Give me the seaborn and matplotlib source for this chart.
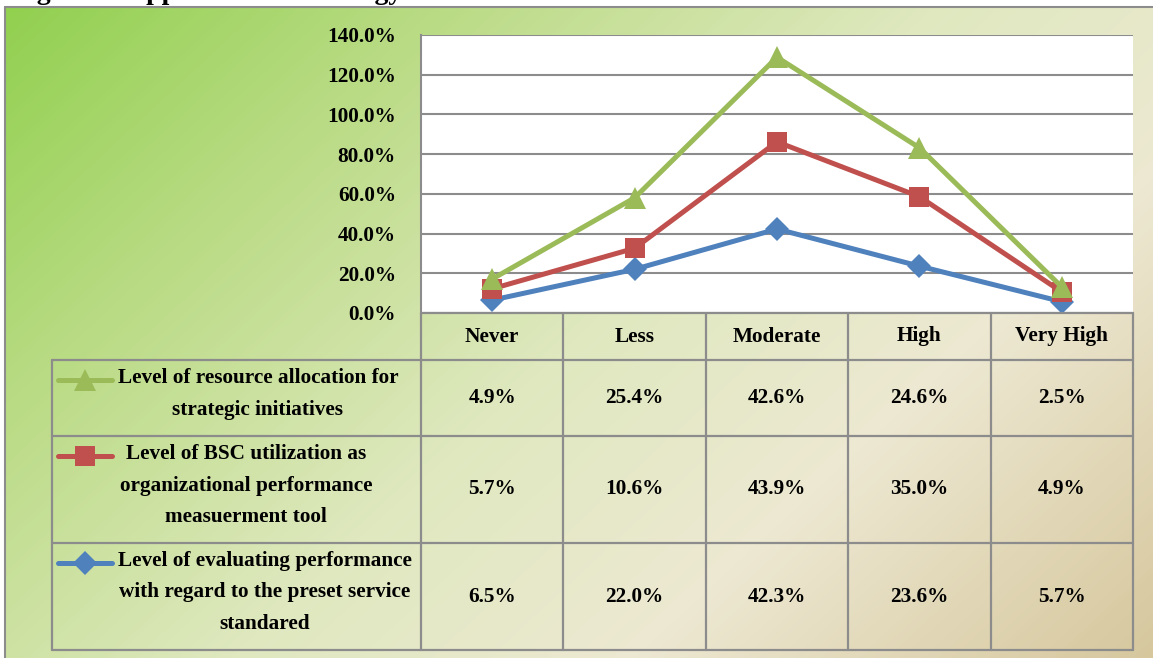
import numpy as np
import pandas as pd
import matplotlib
matplotlib.use("Agg")
import matplotlib.pyplot as plt
from matplotlib.colors import LinearSegmentedColormap
from matplotlib.ticker import FuncFormatter, MultipleLocator
import seaborn as sns

# ---------------- data ----------------
categories = ["Never", "Less", "Moderate", "High", "Very High"]
resource_alloc = [4.9, 25.4, 42.6, 24.6, 2.5]
bsc_util = [5.7, 10.6, 43.9, 35.0, 4.9]
eval_perf = [6.5, 22.0, 42.3, 23.6, 5.7]
series_labels = [
    ["Level of resource allocation for", "strategic initiatives"],
    ["Level of BSC utilization as", "organizational performance", "measuerment tool"],
    ["Level of evaluating performance", "with regard to the preset service", "standared"],
]
title_text = "Figure 4: Application of Strategy"

sns.set_theme(style="white")
plt.rcParams["font.family"] = ["Liberation Serif", "DejaVu Serif"]
plt.rcParams["font.weight"] = "bold"
plt.rcParams["text.color"] = "black"
plt.rcParams["ytick.color"] = "black"

W, H = 1153, 658
fig = plt.figure(figsize=(W / 100, H / 100), dpi=100)
fig.patch.set_facecolor("white")

# background gradient (chart area)
bg = fig.add_axes([0, 0, 1, 1], zorder=0)
bg.set_xlim(0, W)
bg.set_ylim(H, 0)
bg.axis("off")
cmap = LinearSegmentedColormap.from_list(
    "g", [(0.0, "#92d050"), (0.25, "#bcdc88"), (0.5, "#dfe8bf"),
          (0.72, "#ede8d2"), (1.0, "#d6c79d")])
yy, xx = np.mgrid[0:200, 0:350]
grad = (xx / 349.0 * 0.62 + yy / 199.0 * 0.38)
bg.imshow(grad, cmap=cmap, extent=[6, W + 2, H + 2, 8], aspect="auto",
          interpolation="bicubic", zorder=0)
bg.plot([5, 5], [7, H + 2], color="#8c8c8c", lw=1.5, zorder=1)
bg.plot([5, W + 2], [7, 7], color="#8c8c8c", lw=1.5, zorder=1)

# plot area
px0, px1, py0, py1 = 421, 1133, 35, 313
ax = fig.add_axes([px0 / W, 1 - py1 / H, (px1 - px0) / W, (py1 - py0) / H], zorder=2)
ax.set_facecolor("white")

stack1 = np.array(eval_perf)
stack2 = stack1 + np.array(bsc_util)
stack3 = stack2 + np.array(resource_alloc)
xs = np.arange(len(categories))

colors = ["#9bbb59", "#c0504d", "#4f81bd"]
markers = ["^", "s", "D"]
msizes = [16, 14.5, 12.5]

sns.lineplot(x=xs, y=stack1, ax=ax, color=colors[2], marker=markers[2],
             markersize=msizes[2], markeredgewidth=0, linewidth=3.6, zorder=3)
sns.lineplot(x=xs, y=stack2, ax=ax, color=colors[1], marker=markers[1],
             markersize=msizes[1], markeredgewidth=0, linewidth=3.6, zorder=4)
sns.lineplot(x=xs, y=stack3, ax=ax, color=colors[0], marker=markers[0],
             markersize=msizes[0], markeredgewidth=0, linewidth=3.6, zorder=5)

fs = 15.3
ax.set_xlim(-0.5, len(categories) - 0.5)
ax.set_ylim(0, 140)
ax.yaxis.set_major_locator(MultipleLocator(20))
ax.yaxis.set_major_formatter(FuncFormatter(lambda v, p: f"{v:.1f}%"))
ax.set_xticks([])
ax.grid(axis="y", color="#8c8c8c", lw=1.5)
ax.set_axisbelow(True)
for s in ["right", "bottom", "top"]:
    ax.spines[s].set_visible(False)
ax.spines["left"].set_color("#8c8c8c")
ax.spines["left"].set_linewidth(1.5)
ax.tick_params(axis="y", length=0, pad=18, labelsize=fs, labelcolor="black")
for t in ax.get_yticklabels():
    t.set_fontweight("bold")
ax.set_xlabel("")
ax.set_ylabel("")
for l in ax.lines:
    l.set_clip_on(False)

# overlay for table
ov = fig.add_axes([0, 0, 1, 1], zorder=3)
ov.set_xlim(0, W)
ov.set_ylim(H, 0)
ov.axis("off")
ov.patch.set_alpha(0)

gc = "#8c8c8c"
glw = 1.6
col_edges = np.linspace(px0, px1, len(categories) + 1)
row_edges = [py1, 360, 436, 543, 650]
legend_left = 52

ov.text(12, -1, title_text, fontsize=20, fontweight="bold", va="baseline",
        ha="left", color="black", clip_on=False)

# horizontal lines
ov.plot([px0, px1], [row_edges[0], row_edges[0]], color=gc, lw=glw)
for r in row_edges[1:]:
    ov.plot([legend_left, px1], [r, r], color=gc, lw=glw)
# vertical lines
for c in col_edges:
    ov.plot([c, c], [row_edges[0], row_edges[-1]], color=gc, lw=glw)
ov.plot([legend_left, legend_left], [row_edges[1], row_edges[-1]], color=gc, lw=glw)

for i, cat in enumerate(categories):
    cx = (col_edges[i] + col_edges[i + 1]) / 2
    ov.text(cx, (row_edges[0] + row_edges[1]) / 2, cat, ha="center", va="center",
            fontsize=fs, fontweight="bold", color="black")

table_rows = [resource_alloc, bsc_util, eval_perf]
label_centers = [258, 246, 265]
line_gap = 31.5
for r, vals in enumerate(table_rows):
    top, bot = row_edges[r + 1], row_edges[r + 2]
    cy = (top + bot) / 2
    for i, v in enumerate(vals):
        cx = (col_edges[i] + col_edges[i + 1]) / 2
        ov.text(cx, cy, f"{v:.1f}%", ha="center", va="center", fontsize=fs,
                fontweight="bold", color="black")
    lines = series_labels[r]
    first_y = top + 18
    for k, txt in enumerate(lines):
        ov.text(label_centers[r], first_y + k * line_gap, txt, ha="center",
                va="center", fontsize=fs, fontweight="bold", color="black")
    # legend key
    ky = first_y + 2
    ov.plot([58, 112], [ky, ky], color=colors[r], lw=3.6, solid_capstyle="round")
    ov.plot([85], [ky], marker=markers[r], color=colors[r], markersize=msizes[r],
            markeredgewidth=0)

fig.savefig("out.png", dpi=100)
